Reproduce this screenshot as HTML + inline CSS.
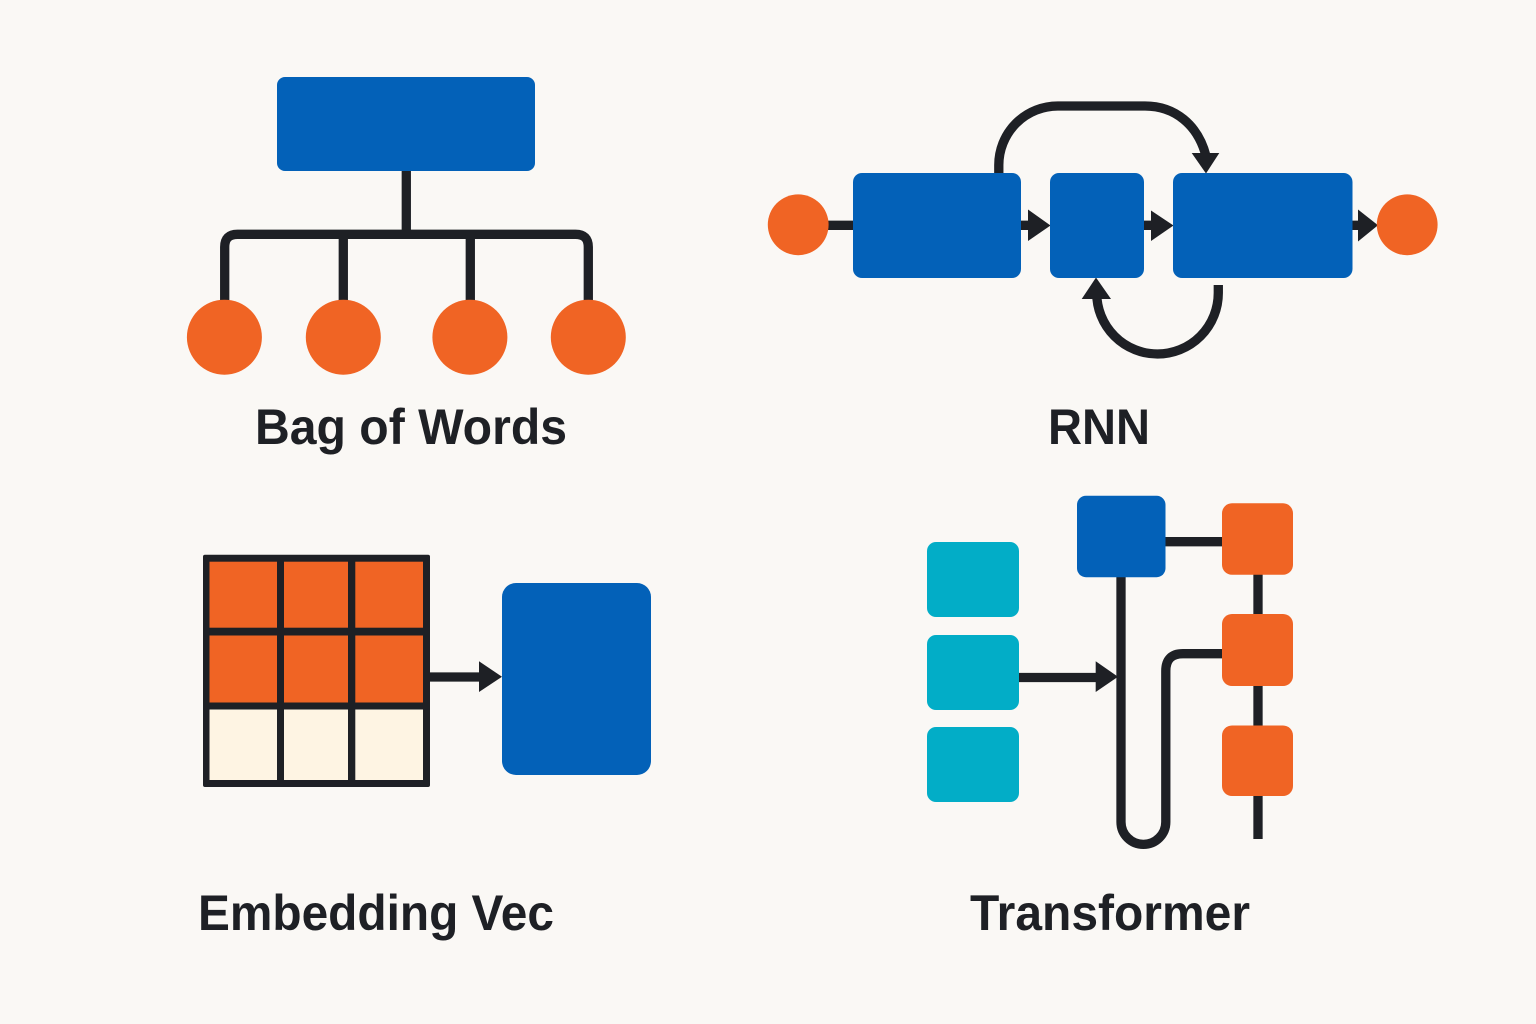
<!DOCTYPE html>
<html>
<head>
<meta charset="utf-8">
<style>
html,body{margin:0;padding:0;background:#faf8f5;}
svg{display:block;}
text{font-family:"Liberation Sans",sans-serif;font-weight:700;fill:#1e2025;font-size:50px;}
</style>
</head>
<body>
<svg width="1536" height="1024" viewBox="0 0 1536 1024" xmlns="http://www.w3.org/2000/svg">
<rect width="1536" height="1024" fill="#faf8f5"/>
<g fill="none" stroke="#1e2025" stroke-width="9.300">
<!-- BoW -->
<path d="M406.300 168V234"/>
<path d="M224.700 305V247Q224.700 234.300 237.500 234.300H575.500Q588.300 234.300 588.300 247V305"/>
<path d="M343.300 234V305M470.300 234V305"/>
<!-- RNN -->
<path d="M826 225.300H856"/>
<path d="M1018 225.300H1032M1141 225.300H1154M1350 225.300H1360"/>
<path d="M998.800 176V165A59 59 0 0 1 1058 106H1145C1175 106 1198 125 1206 156"/>
<path d="M1218.300 285V293A60.800 61 0 0 1 1096.700 293V298"/>
<!-- Embedding -->
<path d="M428 677H482"/>
<!-- Transformer -->
<path d="M1018 677.500H1098"/>
<path d="M1121 575V822A22.400 22.400 0 0 0 1165.800 822V671Q1165.800 653.700 1183 653.700H1225"/>
<path d="M1164 541.700H1225"/>
<path d="M1258 570V839"/>
</g>
<g fill="#1e2025">
<polygon points="1028,209.500 1050.500,225.500 1028,241"/>
<polygon points="1151,210.500 1173.500,225.500 1151,241"/>
<polygon points="1358,209.500 1378,225.300 1358,241.500"/>
<polygon points="1191.700,153 1219.300,153 1206,173.500"/>
<polygon points="1081.700,299 1111,299 1096,277.500"/>
<polygon points="479,661.200 502,676.700 479,692"/>
<polygon points="1095.700,661.200 1118,676.700 1095.700,692"/>
</g>
<!-- BoW nodes -->
<rect x="277" y="77" width="258" height="94" rx="8" fill="#0361b8"/>
<g fill="#f06424">
<circle cx="224.400" cy="337.200" r="37.500"/>
<circle cx="343.300" cy="337.200" r="37.500"/>
<circle cx="469.900" cy="337.200" r="37.500"/>
<circle cx="588.300" cy="337.200" r="37.500"/>
<circle cx="798.200" cy="224.800" r="30.400"/>
<circle cx="1407.200" cy="224.800" r="30.400"/>
</g>
<!-- RNN nodes -->
<rect x="853" y="173" width="168" height="105" rx="9" fill="#0361b8"/>
<rect x="1050" y="173" width="94" height="105" rx="9" fill="#0361b8"/>
<rect x="1173" y="173" width="179.500" height="105" rx="9" fill="#0361b8"/>
<!-- Grid -->
<rect x="203" y="554.700" width="227" height="232.300" rx="2" fill="#1e2025"/>
<g fill="#f06424">
<rect x="209.500" y="561.700" width="67.500" height="66"/>
<rect x="284" y="561.700" width="64" height="66"/>
<rect x="355.300" y="561.700" width="67.700" height="66"/>
<rect x="209.500" y="635.500" width="67.500" height="67"/>
<rect x="284" y="635.500" width="64" height="67"/>
<rect x="355.300" y="635.500" width="67.700" height="67"/>
</g>
<g fill="#fef4e3">
<rect x="209.500" y="709.500" width="67.500" height="70.500"/>
<rect x="284" y="709.500" width="64" height="70.500"/>
<rect x="355.300" y="709.500" width="67.700" height="70.500"/>
</g>
<rect x="502" y="583" width="149" height="192" rx="14" fill="#0361b8"/>
<!-- Transformer nodes -->
<g fill="#02adc7">
<rect x="927" y="542" width="92" height="75" rx="9"/>
<rect x="927" y="635" width="92" height="75" rx="9"/>
<rect x="927" y="727" width="92" height="75" rx="9"/>
</g>
<rect x="1077" y="495.700" width="88.500" height="81.500" rx="9" fill="#0361b8"/>
<g fill="#f06424">
<rect x="1222" y="503.300" width="71" height="71.500" rx="10"/>
<rect x="1222" y="614" width="71" height="72" rx="10"/>
<rect x="1222" y="725.500" width="71" height="70.500" rx="10"/>
</g>
<!-- Labels -->
<text x="255" y="444" textLength="312" lengthAdjust="spacingAndGlyphs">Bag of Words</text>
<text x="1048" y="444" textLength="102" lengthAdjust="spacingAndGlyphs">RNN</text>
<text x="198" y="930" textLength="356" lengthAdjust="spacingAndGlyphs">Embedding Vec</text>
<text x="970" y="930" textLength="280" lengthAdjust="spacingAndGlyphs">Transformer</text>
</svg>
</body>
</html>
